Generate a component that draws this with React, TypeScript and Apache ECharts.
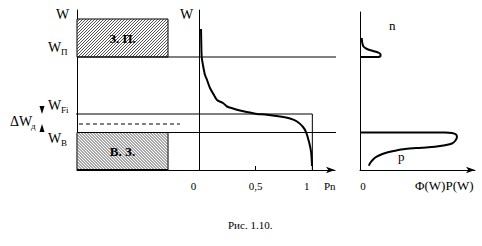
import React, { useEffect, useRef } from 'react';
import * as echarts from 'echarts';

const FONT = 'Liberation Serif';

// Energy levels on the W axis (arbitrary units, 0 = bottom of the diagram)
const levelPi = 113; // W_П
const levelFi = 56; // W_Fi
const levelD = 46; // dashed level (ΔW_д)
const levelB = 37.5; // W_B
const bandTop = 151; // top of the drawn conduction band

const bandLabels = ['З. П.', 'В. З.'];
const bandLow = [levelPi, 0];
const bandHigh = [bandTop, levelB];

// Pn(W) curve
const pnProb = [0.018, 0.02, 0.024, 0.035, 0.053, 0.071, 0.097, 0.132, 0.159, 0.212, 0.247, 0.3, 0.362, 0.424, 0.512, 0.583, 0.715, 0.803, 0.865, 0.918, 0.944, 0.971, 0.989, 0.997];
const pnW = [141, 127, 113, 105, 95, 90, 82, 75, 70, 67, 63.5, 61.5, 59.5, 58, 56, 55.5, 53.5, 51.5, 48.5, 43, 38, 28, 18, 4];

// Φ(W)P(W): electrons (n) and holes (p)
const nPhi = [0, 0.148, 0.178, 0.178, 0.157, 0.113, 0.061, 0.03, 0.02, 0.015];
const nW = [113, 113, 114, 116, 117.5, 119, 121, 123.5, 127, 132];
const pPhi = [0, 0.739, 0.8, 0.835, 0.843, 0.83, 0.8, 0.74, 0.652, 0.537, 0.391, 0.304, 0.243, 0.189, 0.145, 0.116, 0.087, 0.078];
const pW = [37.5, 37.5, 37, 35.5, 33, 29.5, 26.5, 24.8, 23.3, 22.3, 21, 19.3, 17.7, 15.7, 13.3, 10.7, 6.7, 4.3];

// tick labels
const pnTickValues = [0, 0.5, 1];
const pnTickLabels = ['0', '0,5', '1'];
const phiTickValues = [0];
const phiTickLabels = ['0'];

// layout helpers (panel-relative fractions, not data)
const BAND_SPAN = 0.746;
const LEFT_EXT = -0.328;
const DASH_END = 0.844;
const ARROW_X = -0.287;
const MID_EXT = 1.42;

const zip = (a: number[], b: number[]) => a.map((v, i) => [v, b[i]]);

function hatchRect(x0: number, y0: number, x1: number, y1: number, dir: number, step: number) {
  const lines: any[] = [];
  const st = { stroke: '#1a1a1a', lineWidth: 0.75 };
  if (dir > 0) {
    for (let c = x0 + y0; c <= x1 + y1; c += step) {
      const xa = Math.max(x0, c - y1);
      const xb = Math.min(x1, c - y0);
      if (xb > xa) lines.push({ type: 'line', shape: { x1: xa, y1: c - xa, x2: xb, y2: c - xb }, style: st });
    }
  } else {
    for (let c = y0 - x1; c <= y1 - x0; c += step) {
      const xa = Math.max(x0, y0 - c);
      const xb = Math.min(x1, y1 - c);
      if (xb > xa) lines.push({ type: 'line', shape: { x1: xa, y1: xa + c, x2: xb, y2: xb + c }, style: st });
    }
  }
  return lines;
}

const lineStyle = { color: '#000', width: 1 };
const axisBase = {
  axisTick: { show: false },
  axisLabel: { show: false },
  splitLine: { show: false },
  axisLine: { show: true, lineStyle },
};

const txt = (text: string, left: number, top: number, size: number) => ({
  type: 'text',
  left,
  top,
  style: { text, fontSize: size, fontFamily: FONT, fill: '#000' },
});

export default function App() {
  const ref = useRef<HTMLDivElement>(null);
  useEffect(() => {
    if (!ref.current) return;
    const chart = echarts.init(ref.current, null, { renderer: 'svg' });
    const lvl = (name: string, data: any[], xi: number, extra: any = {}) => ({
      name,
      type: 'line',
      xAxisIndex: xi,
      yAxisIndex: xi,
      data,
      symbol: 'none',
      showSymbol: true,
      clip: false,
      silent: true,
      lineStyle: { color: '#000', width: 1, ...(extra.lineStyle || {}) },
      z: 3,
    });
    const option: any = {
      animation: false,
      backgroundColor: '#fff',
      textStyle: { fontFamily: FONT },
      grid: [
        { left: 77, top: 10, width: 122, height: 160 },
        { left: 199, top: 10, width: 136, height: 160 },
        { left: 360, top: 12, width: 115, height: 158 },
      ],
      xAxis: [
        { gridIndex: 0, type: 'value', min: 0, max: 1, ...axisBase },
        {
          gridIndex: 1,
          type: 'value',
          min: 0,
          max: 1.2,
          splitLine: { show: false },
          axisLine: { show: true, lineStyle, symbol: ['none', 'arrow'], symbolSize: [5, 9] },
          axisTick: { show: true, inside: true, length: 4, customValues: [0.5, 1], lineStyle },
          axisLabel: {
            customValues: pnTickValues,
            margin: 10,
            formatter: (v: number) => {
              const i = pnTickValues.indexOf(v);
              const t = i >= 0 ? pnTickLabels[i] : '';
              return v === 0.5 ? `{c|${t}}` : `{l|${t}}`;
            },
            rich: {
              l: { padding: [0, 11, 0, 0], fontSize: 11, fontFamily: FONT, color: '#000' },
              c: { fontSize: 11, fontFamily: FONT, color: '#000' },
            },
          },
        },
        {
          gridIndex: 2,
          type: 'value',
          min: 0,
          max: 1,
          splitLine: { show: false },
          axisLine: { show: true, lineStyle, symbol: ['none', 'arrow'], symbolSize: [5, 9] },
          axisTick: { show: false },
          axisLabel: {
            customValues: phiTickValues,
            margin: 10,
            formatter: (v: number) => `{r|${phiTickLabels[phiTickValues.indexOf(v)] ?? ''}}`,
            rich: { r: { padding: [0, 0, 0, 6], fontSize: 11, fontFamily: FONT, color: '#000' } },
          },
        },
      ],
      yAxis: [
        { gridIndex: 0, type: 'value', min: 0, max: 160, ...axisBase },
        { gridIndex: 1, type: 'value', min: 0, max: 160, ...axisBase },
        { gridIndex: 2, type: 'value', min: 0, max: 158, ...axisBase },
      ],
      series: [
        {
          name: 'bands',
          type: 'custom',
          xAxisIndex: 0,
          yAxisIndex: 0,
          z: 2,
          data: bandLabels.map((_, i) => [0, BAND_SPAN, bandLow[i], bandHigh[i]]),
          renderItem: (params: any, api: any) => {
            const p0 = api.coord([api.value(0), api.value(3)]);
            const p1 = api.coord([api.value(1), api.value(2)]);
            const x0 = p0[0], y0 = p0[1], x1 = p1[0], y1 = p1[1];
            const dir = params.dataIndex === 0 ? 1 : -1;
            const children: any[] = [
              { type: 'rect', shape: { x: x0, y: y0, width: x1 - x0, height: y1 - y0 }, style: { fill: '#fff', stroke: '#000', lineWidth: 1 } },
              ...hatchRect(x0, y0, x1, y1, dir, 3),
            ];
            if (params.dataIndex === 1) {
              children.push({ type: 'line', shape: { x1: x0, y1: y1, x2: x1, y2: y1 }, style: { stroke: '#000', lineWidth: 2.2 } });
            }
            children.push({
              type: 'text',
              style: {
                text: bandLabels[params.dataIndex],
                x: (x0 + x1) / 2,
                y: (y0 + y1) / 2,
                align: 'center',
                verticalAlign: 'middle',
                fontSize: 13,
                fontWeight: 'bold',
                fontFamily: FONT,
                fill: '#000',
              },
            });
            return { type: 'group', children };
          },
        },
        // level lines, left panel
        lvl('W_П', [[0, levelPi], [1, levelPi]], 0),
        lvl('W_Fi', [[LEFT_EXT, levelFi], [1, levelFi]], 0),
        lvl('ΔW_д', [[LEFT_EXT, levelD], [DASH_END, levelD]], 0, { lineStyle: { type: [4, 3] } }),
        lvl('W_B', [[0, levelB], [1, levelB]], 0),
        // arrows
        lvl('arrowFi', [[ARROW_X, 77], { value: [ARROW_X, 60], symbol: 'triangle', symbolRotate: 180, symbolSize: [5, 8], itemStyle: { color: '#000' } }], 0),
        lvl('arrowB', [[ARROW_X, 27], { value: [ARROW_X, 42], symbol: 'triangle', symbolSize: [5, 8], itemStyle: { color: '#000' } }], 0),
        // level lines, middle panel
        lvl('W_П m', [[0, levelPi], [MID_EXT, levelPi]], 1),
        lvl('W_B m', [[0, levelB], [MID_EXT, levelB]], 1),
        lvl('W_Fi m', [[0, levelFi], [1, levelFi], [1, 0]], 1),
        {
          name: 'Pn',
          type: 'line',
          xAxisIndex: 1,
          yAxisIndex: 1,
          data: zip(pnProb, pnW),
          symbol: 'none',
          smooth: 0.3,
          lineStyle: { color: '#000', width: 2 },
          z: 5,
        },
        {
          name: 'n',
          type: 'line',
          xAxisIndex: 2,
          yAxisIndex: 2,
          data: zip(nPhi, nW),
          symbol: 'none',
          smooth: 0.3,
          clip: false,
          lineStyle: { color: '#000', width: 2 },
          z: 5,
        },
        {
          name: 'p',
          type: 'line',
          xAxisIndex: 2,
          yAxisIndex: 2,
          data: zip(pPhi, pW),
          symbol: 'none',
          smooth: 0.3,
          clip: false,
          lineStyle: { color: '#000', width: 2 },
          z: 5,
        },
      ],
      graphic: [
        txt('W', 56, 7, 14),
        txt('W', 180, 7, 14),
        txt('W', 48, 40, 14),
        txt('П', 61, 47, 9),
        txt('W', 48, 98, 14),
        txt('Fi', 61, 105, 9),
        txt('ΔW', 10, 114, 14),
        txt('д', 31, 121, 9),
        txt('W', 48, 131, 14),
        txt('B', 61, 138, 9),
        txt('n', 389, 19, 13),
        txt('p', 398, 150, 13),
        txt('Pn', 324, 180, 11),
        txt('Φ(W)P(W)', 415, 179, 13),
        txt('Рис. 1.10.', 228, 219, 11),
      ],
    };
    chart.setOption(option);
    return () => chart.dispose();
  }, []);
  return <div ref={ref} style={{ position: 'absolute', left: 0, top: 0, width: 482, height: 246, background: '#fff' }} />;
}
